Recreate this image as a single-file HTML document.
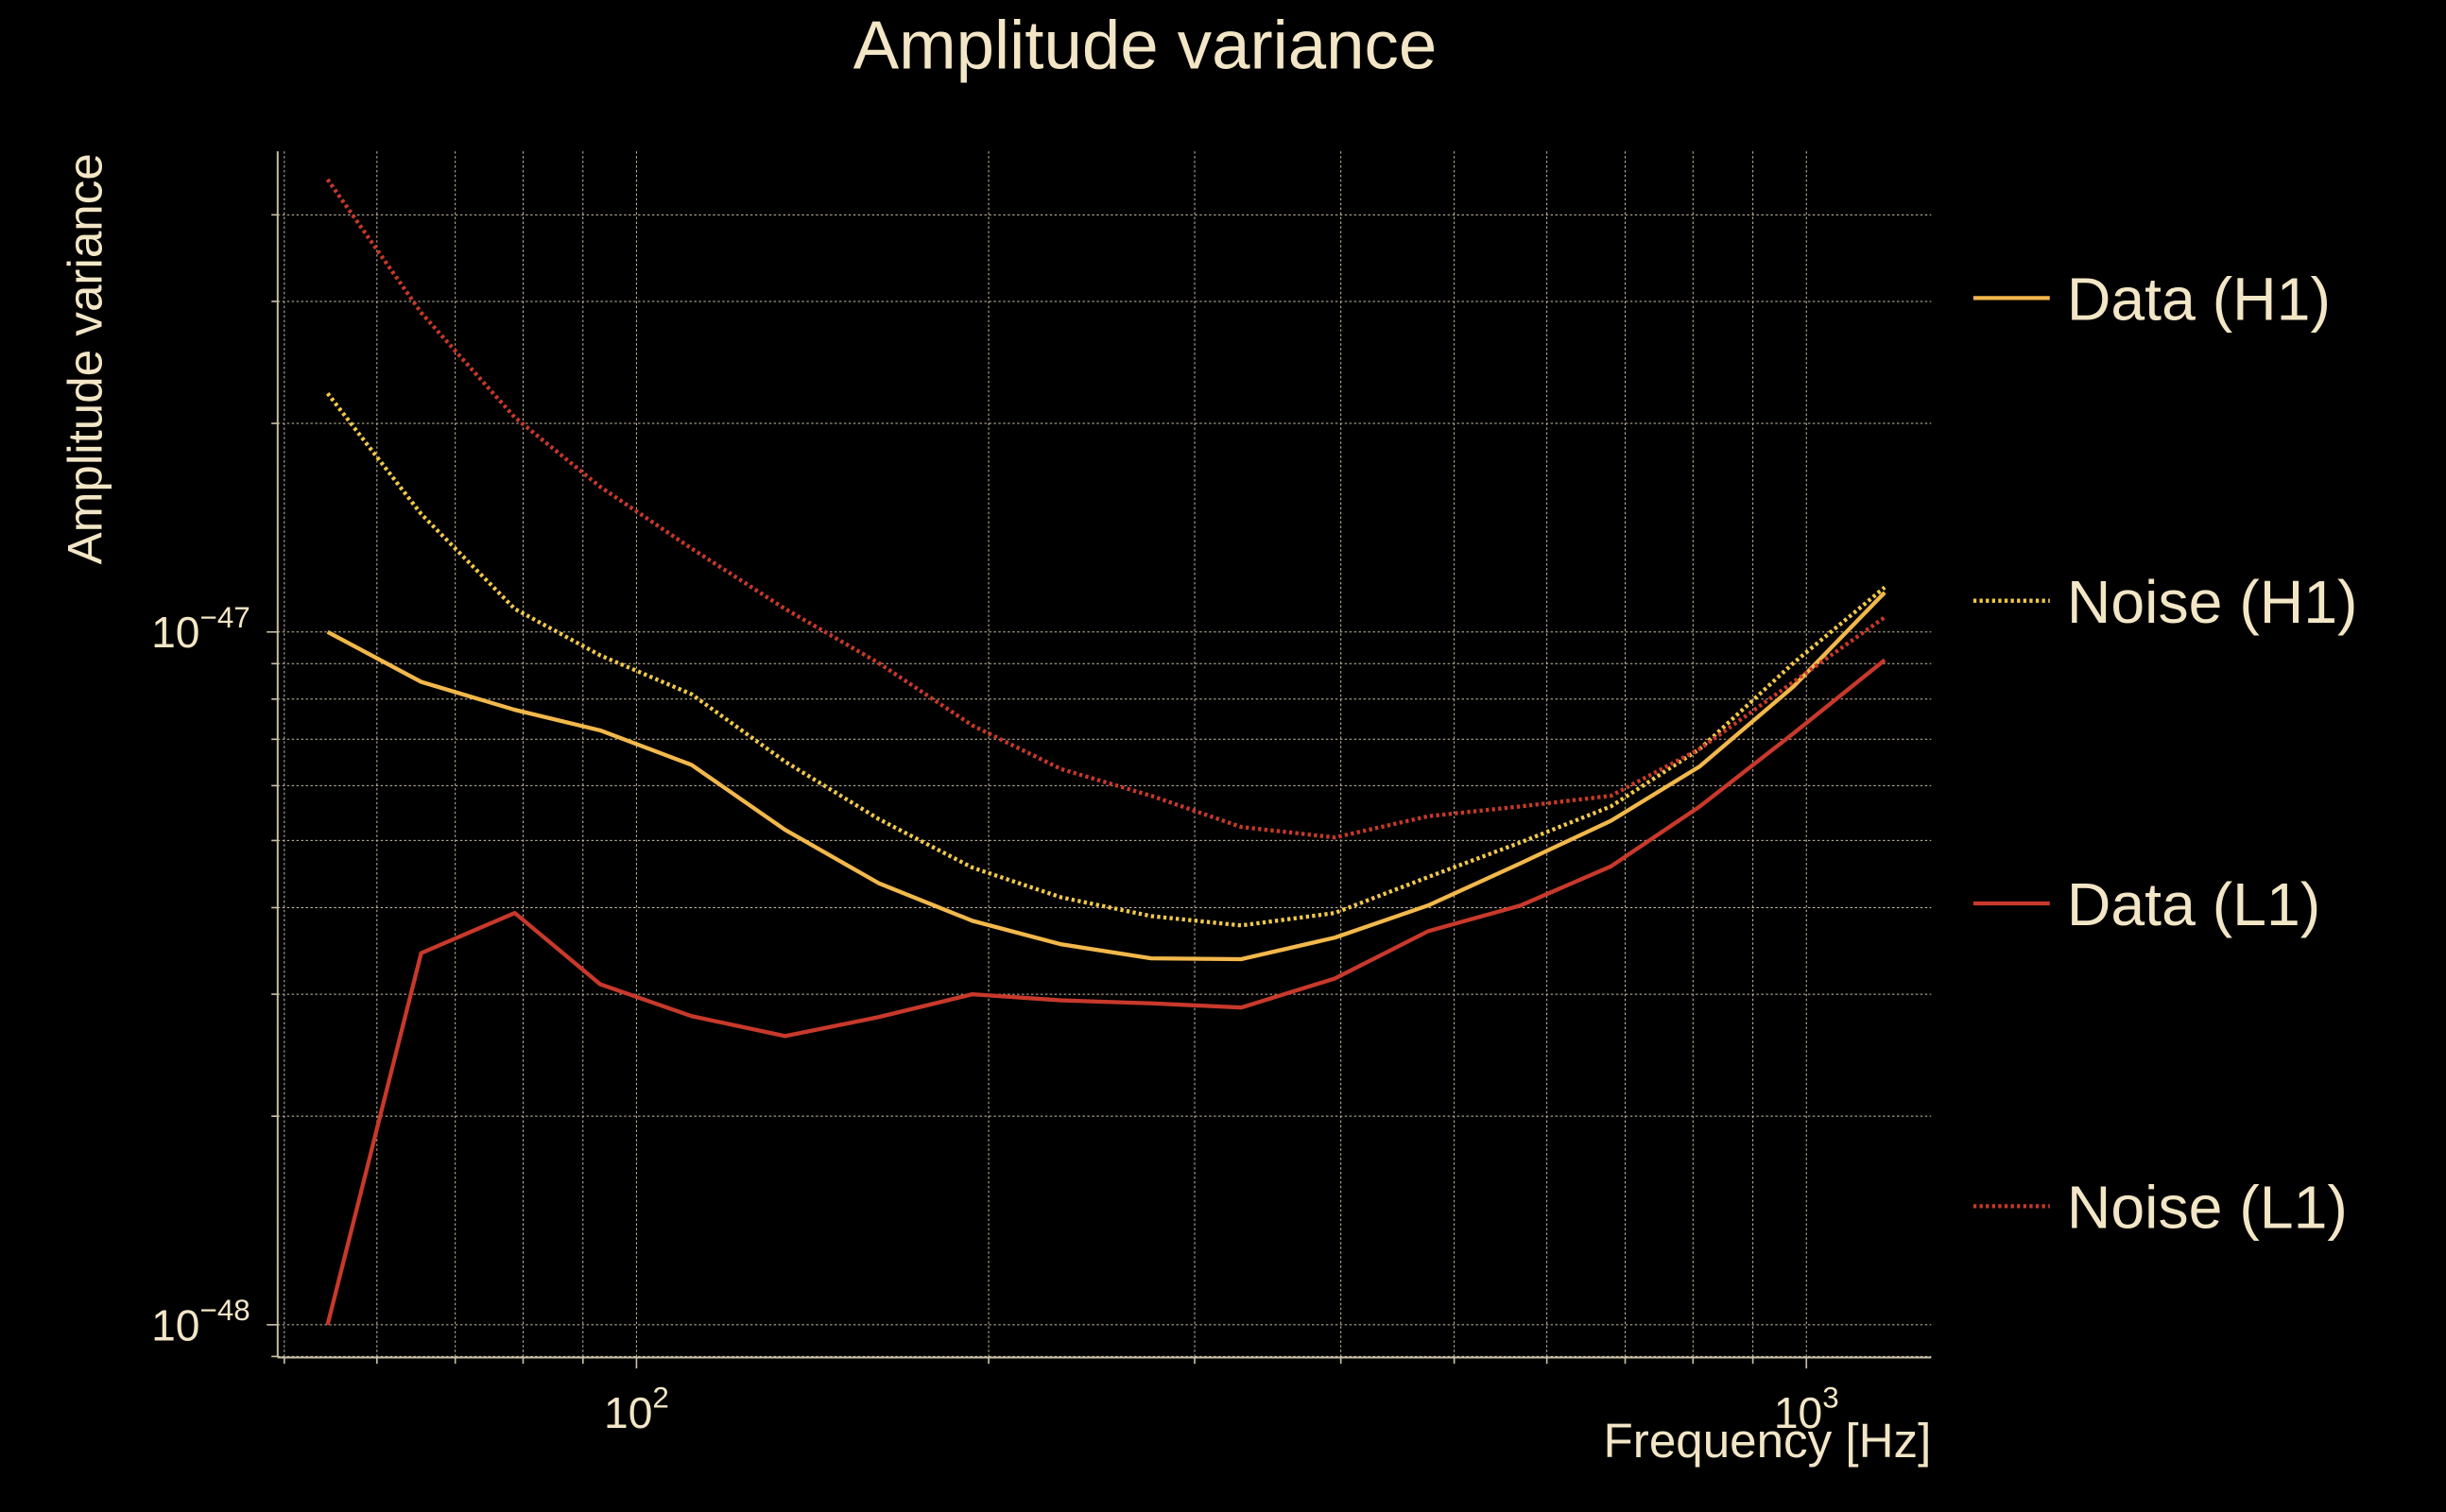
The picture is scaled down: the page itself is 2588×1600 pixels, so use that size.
<!DOCTYPE html>
<html><head><meta charset="utf-8"><style>
html,body{margin:0;padding:0;background:#000;}
svg{display:block;}
text{font-family:"Liberation Sans",sans-serif;fill:#f3e6c6;}
</style></head><body>
<svg id="chart" width="2588" height="1600" viewBox="0 0 1568 969" preserveAspectRatio="none" xmlns="http://www.w3.org/2000/svg">
<rect width="1568" height="969" fill="#000"/>
<text x="734" y="44" font-size="44" text-anchor="middle">Amplitude variance</text>
<text transform="translate(65,230) rotate(-90)" font-size="31" text-anchor="middle">Amplitude variance</text>
<text x="1238" y="934" font-size="31" text-anchor="end">Frequency [Hz]</text>
<g id="grid"></g><g id="axes"></g><g id="series"></g><g id="legend"></g>
</svg>
<script>
// Data (values in units of 1e-48)
const freqExp = [1.736,1.816,1.896,1.969,2.047,2.127,2.207,2.287,2.363,2.440,2.517,2.597,2.677,2.756,2.833,2.909,2.989,3.067];
const dataH1 = [10.0,8.47,7.72,7.21,6.43,5.18,4.34,3.83,3.54,3.38,3.37,3.62,4.03,4.64,5.34,6.40,8.34,11.4];
const noiseH1 = [22.1,14.8,10.8,9.25,8.13,6.50,5.37,4.57,4.14,3.89,3.77,3.93,4.43,4.97,5.60,6.78,9.02,11.6];
const dataL1 = [1.00,3.44,3.93,3.10,2.79,2.61,2.78,3.00,2.94,2.91,2.87,3.16,3.70,4.03,4.59,5.60,7.14,9.11];
const noiseL1 = [45.0,28.9,20.4,16.2,13.2,10.8,9.02,7.33,6.34,5.80,5.23,5.05,5.42,5.60,5.80,6.78,8.47,10.5];
const seriesNames = ["Data (H1)","Noise (H1)","Data (L1)","Noise (L1)"];
const xTickLabels = ["2","3"];
const yTickLabels = ["\u221248","\u221247"];

const NS="http://www.w3.org/2000/svg";
const L=178,R=1238,T=97,B=870;
const X0=1.6933,X1=3.1067, Y0=-48.0473, Y1=-46.3063;
function xs(lf){return L+(lf-X0)/(X1-X0)*(R-L);}
function ys(v){const l=Math.log10(v*1e-48);return B-(l-Y0)/(Y1-Y0)*(B-T);}
function mk(tag,attrs,parent){const e=document.createElementNS(NS,tag);for(const k in attrs)e.setAttribute(k,attrs[k]);parent.appendChild(e);return e;}
const grid=document.getElementById('grid'),axes=document.getElementById('axes'),ser=document.getElementById('series'),leg=document.getElementById('legend');
const gc="#c9bfa6";
for(let d=1;d<=3;d++)for(let m=1;m<10;m++){const lf=d+Math.log10(m);if(lf<X0||lf>X1)continue;const x=xs(lf);
 const g=mk('line',{x1:x,x2:x,y1:T,y2:B,stroke:gc,'stroke-width':0.6,'stroke-dasharray':'1.5,1.5'},grid);
 
 
 const t=mk('line',{x1:x,x2:x,y1:B,y2:B+(m===1?7:4),stroke:gc,'stroke-width':1},axes);
 
 }
for(let d=-49;d<=-47;d++)for(let m=1;m<10;m++){const v=m*Math.pow(10,d+48);const y=ys(v);if(y<T-1||y>B)continue;
 const g=mk('line',{x1:L,x2:R,y1:y,y2:y,stroke:gc,'stroke-width':0.6,'stroke-dasharray':'1.5,1.5'},grid);
 
 
 const t=mk('line',{x1:L-(m===1?7:4),x2:L,y1:y,y2:y,stroke:gc,'stroke-width':1},axes);
 
 }
const sp1=mk('line',{x1:L,x2:L,y1:T,y2:B,stroke:gc,'stroke-width':1.2},axes);


const sp2=mk('line',{x1:L,x2:R,y1:B,y2:B,stroke:gc,'stroke-width':1.2},axes);


xTickLabels.forEach((e,i)=>{const x=xs(+e);const t=mk('text',{x:x,y:915,'font-size':28,'text-anchor':'middle'},axes);
 
 
 t.innerHTML='10<tspan dy="-13" font-size="19">'+e+'</tspan>';});
yTickLabels.forEach((e,i)=>{const y=ys(Math.pow(10,parseFloat(e.replace('\u2212','-'))+48));const t=mk('text',{x:97,y:y+10,'font-size':28},axes);
 
 
 t.innerHTML='10<tspan dy="-13" font-size="19">'+e+'</tspan>';});
const styles=[{c:"#f2b84b",d:null,v:dataH1},{c:"#f2c94b",d:"2,2",v:noiseH1},{c:"#c8392b",d:null,v:dataL1},{c:"#c8392b",d:"2,2",v:noiseL1}];
const names=["data-h1-line","noise-h1-line","data-l1-line","noise-l1-line"];
styles.forEach((s,i)=>{const pts=s.v.map((v,j)=>xs(freqExp[j]).toFixed(1)+','+ys(v).toFixed(1)).join(' ');
 const a={points:pts,fill:'none',stroke:s.c,'stroke-width':2.6,'stroke-linejoin':'round'};if(s.d)a['stroke-dasharray']=s.d;
 const p=mk('polyline',a,ser);
 
 
 const ly=191+i*194;
 const la={x1:1265,x2:1314,y1:ly,y2:ly,stroke:s.c,'stroke-width':2.6};if(s.d)la['stroke-dasharray']=s.d;
 const ll=mk('line',la,leg);
 
 
 const lt=mk('text',{x:1325,y:ly+14,'font-size':39},leg);
 
 
 lt.textContent=seriesNames[i];});
</script>
</body></html>
